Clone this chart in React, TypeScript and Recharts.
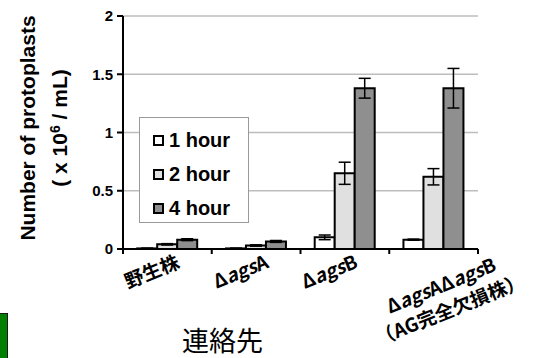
import React from 'react';
import { BarChart, Bar, XAxis, YAxis, CartesianGrid, Legend, ErrorBar } from 'recharts';

const strains = ['野生株', 'ΔagsA', 'ΔagsB', 'ΔagsAΔagsB\n（AG完全欠損株）'];
const hour1 = [0.005, 0.005, 0.1, 0.08];
const hour1Err = [0.003, 0.003, 0.02, 0.005];
const hour2 = [0.04, 0.03, 0.65, 0.62];
const hour2Err = [0.006, 0.006, 0.095, 0.07];
const hour4 = [0.08, 0.065, 1.38, 1.38];
const hour4Err = [0.008, 0.008, 0.085, 0.17];
const yTicks = [0, 0.5, 1, 1.5, 2];

const seriesNames = ['1 hour', '2 hour', '4 hour'];
const seriesColors = ['#ffffff', '#e0e0e0', '#8f8f8f'];

const data = strains.map((name, i) => ({
  name,
  h1: hour1[i], e1: hour1Err[i],
  h2: hour2[i], e2: hour2Err[i],
  h4: hour4[i], e4: hour4Err[i],
}));

const latin = "'Noto Sans CJK JP', 'Noto Sans', sans-serif";
const arial = "'Liberation Sans', Arial, sans-serif";

// lowercase gene letters are italic, Δ and capitals are not
function geneSpans(line: string) {
  const parts = line.match(/[a-z]+|[^a-z]+/g) || [];
  return parts.map((p, i) => (
    <tspan key={i} fontStyle={/[a-z]/.test(p) ? 'italic' : 'normal'}>{p}</tspan>
  ));
}

function StrainTick(props: any) {
  const { x, y, payload, width, visibleTicksCount, index } = props;
  const band = width / visibleTicksCount;
  const lines: string[] = String(payload.value).split('\n');
  const marks = [x - band / 2];
  if (index === visibleTicksCount - 1) marks.push(x + band / 2);
  const pos = lines.length > 1
    ? [[x + 10, y + 43], [x + 19, y + 67]]
    : [[x - 13, y + 29]];
  return (
    <g>
      {marks.map((mx, i) => (
        <line key={i} x1={mx} x2={mx} y1={y} y2={y + 5} stroke="#000" strokeWidth={2} />
      ))}
      {lines.map((ln, i) => (
        <text key={i} x={pos[i][0]} y={pos[i][1]} textAnchor="middle"
          transform={`rotate(-22, ${pos[i][0]}, ${pos[i][1]})`}
          fontFamily={latin} fontWeight="bold" fontSize={19} fill="#000">
          {geneSpans(ln)}
        </text>
      ))}
    </g>
  );
}

function YTitle() {
  const cy = 128;
  return (
    <g fontFamily={arial} fontWeight="bold" fontSize={21} fill="#000">
      <g transform={`translate(35,${cy}) rotate(-90)`}>
        <text x={0} y={0} textAnchor="middle">Number of protoplasts</text>
      </g>
      <g transform={`translate(67,${cy}) rotate(-90)`}>
        <text x={0} y={0} textAnchor="middle">
          ( x 10<tspan dy={-7} fontSize={14}>6</tspan><tspan dy={7}> / mL)</tspan>
        </text>
      </g>
    </g>
  );
}

function HourLegend() {
  return (
    <div style={{
      width: 110, height: 106, border: '1.5px solid #9a9a9a', background: '#fff',
      boxSizing: 'border-box', padding: '5px 0 0 13px', fontFamily: arial,
      fontWeight: 'bold', fontSize: 20, color: '#000',
    }}>
      {seriesNames.map((n, i) => (
        <div key={n} style={{ display: 'flex', alignItems: 'center', height: 34 }}>
          <span style={{
            width: 7, height: 7, border: '2.5px solid #000', background: seriesColors[i],
            marginRight: 5, display: 'inline-block',
          }} />
          {n}
        </div>
      ))}
    </div>
  );
}

export default function App() {
  return (
    <div style={{ position: 'absolute', left: 0, top: 0, width: 536, height: 358, background: '#fff' }}>
      <BarChart width={536} height={358} data={data}
        margin={{ top: 16, right: 58, left: 63, bottom: 69 }}
        barCategoryGap="16%" barGap={0}>
        <CartesianGrid vertical={false} stroke="#bdbdbd" strokeWidth={1.5} />
        <XAxis dataKey="name" height={40} interval={0} tickSize={0} tickMargin={0}
          tickLine={false} axisLine={{ stroke: '#000', strokeWidth: 2 }} tick={<StrainTick />} />
        <YAxis width={60} domain={[0, 2]} ticks={yTicks} interval={0}
          tickFormatter={(v: number) => String(v)}
          axisLine={{ stroke: '#000', strokeWidth: 2 }} tickLine={{ stroke: '#000', strokeWidth: 2 }}
          tickSize={6} tickMargin={4}
          tick={{ fill: '#000', fontSize: 15, fontWeight: 'bold', fontFamily: arial }}
          label={{ content: <YTitle /> }} />
        <Legend content={<HourLegend />} layout="horizontal" verticalAlign="middle" align="center"
          wrapperStyle={{ left: 139, top: 117, width: 110, height: 106 }} />
        <Bar dataKey="h1" name={seriesNames[0]} fill={seriesColors[0]} stroke="#000" strokeWidth={2} isAnimationActive={false}>
          <ErrorBar dataKey="e1" width={6} stroke="#000" strokeWidth={1.5} />
        </Bar>
        <Bar dataKey="h2" name={seriesNames[1]} fill={seriesColors[1]} stroke="#000" strokeWidth={2} isAnimationActive={false}>
          <ErrorBar dataKey="e2" width={6} stroke="#000" strokeWidth={1.5} />
        </Bar>
        <Bar dataKey="h4" name={seriesNames[2]} fill={seriesColors[2]} stroke="#000" strokeWidth={2} isAnimationActive={false}>
          <ErrorBar dataKey="e4" width={6} stroke="#000" strokeWidth={1.5} />
        </Bar>
      </BarChart>
      <div style={{
        position: 'absolute', left: 182, top: 320, fontFamily: latin, fontSize: 27, color: '#000',
      }}>連絡先</div>
      <div style={{
        position: 'absolute', left: -2, top: 313, width: 8, height: 50,
        background: '#008000', border: '1px solid #1a1a1a',
      }} />
    </div>
  );
}
